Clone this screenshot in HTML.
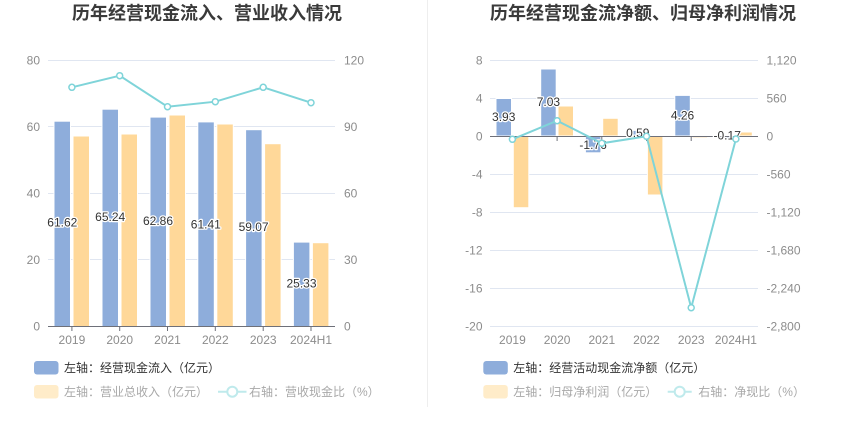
<!DOCTYPE html>
<html><head><meta charset="utf-8">
<style>
html,body{margin:0;padding:0;background:#fff;}
svg{display:block;font-family:"Liberation Sans","Noto Sans CJK SC",sans-serif;}
.t{font-size:18px;font-weight:bold;fill:#3a3a3a;}
.ax{font-size:12px;fill:#8c8c8c;}
.lb{font-size:12px;fill:#333;stroke:#fff;stroke-width:2.5px;paint-order:stroke;stroke-linejoin:round;}
.lg1{font-size:12px;fill:#333;}
.lg2{font-size:12px;fill:#a8a8a8;}
</style></head><body>
<svg width="850" height="437" viewBox="0 0 850 437" xmlns="http://www.w3.org/2000/svg">
<rect width="850" height="437" fill="#fff"/>
<line x1="427.5" y1="0" x2="427.5" y2="407" stroke="#eeeeee" stroke-width="1"/>

<!-- LEFT CHART -->
<text class="t" x="207" y="19.5" text-anchor="middle">历年经营现金流入、营业收入情况</text>
<g stroke="#e0e6f1" stroke-width="1">
<line x1="48" y1="60.5" x2="335" y2="60.5"/>
<line x1="48" y1="126.5" x2="335" y2="126.5"/>
<line x1="48" y1="193.5" x2="335" y2="193.5"/>
<line x1="48" y1="259.5" x2="335" y2="259.5"/>
</g>
<g class="ax" text-anchor="end">
<text x="40" y="64.5">80</text>
<text x="40" y="131">60</text>
<text x="40" y="197.5">40</text>
<text x="40" y="264">20</text>
<text x="40" y="330.5">0</text>
</g>
<g class="ax" text-anchor="start">
<text x="344" y="64.5">120</text>
<text x="344" y="131">90</text>
<text x="344" y="197.5">60</text>
<text x="344" y="264">30</text>
<text x="344" y="330.5">0</text>
</g>
<!-- bars -->
<g stroke="#fff" stroke-width="1">
<rect x="54" y="121.2" width="16.5" height="205.3" fill="#8eaddb"/>
<rect x="73" y="136" width="16.5" height="190.5" fill="#ffd899"/>
<rect x="102" y="109.2" width="16.5" height="217.3" fill="#8eaddb"/>
<rect x="121" y="134" width="16.5" height="192.5" fill="#ffd899"/>
<rect x="150" y="117.1" width="16.5" height="209.4" fill="#8eaddb"/>
<rect x="169" y="115" width="16.5" height="211.5" fill="#ffd899"/>
<rect x="197.8" y="121.9" width="16.5" height="204.6" fill="#8eaddb"/>
<rect x="216.8" y="124" width="16.5" height="202.5" fill="#ffd899"/>
<rect x="245.6" y="129.7" width="16.5" height="196.8" fill="#8eaddb"/>
<rect x="264.6" y="143.7" width="16.5" height="182.8" fill="#ffd899"/>
<rect x="293.4" y="242.1" width="16.5" height="84.4" fill="#8eaddb"/>
<rect x="312.4" y="242.7" width="16.5" height="83.8" fill="#ffd899"/>
</g>
<line x1="48" y1="326.5" x2="335" y2="326.5" stroke="#6e7079" stroke-width="1"/>
<g stroke="#6e7079" stroke-width="1">
<line x1="71.9" y1="326.5" x2="71.9" y2="331"/>
<line x1="119.7" y1="326.5" x2="119.7" y2="331"/>
<line x1="167.5" y1="326.5" x2="167.5" y2="331"/>
<line x1="215.3" y1="326.5" x2="215.3" y2="331"/>
<line x1="263.2" y1="326.5" x2="263.2" y2="331"/>
<line x1="311" y1="326.5" x2="311" y2="331"/>
</g>
<g class="ax" text-anchor="middle">
<text x="71.9" y="344">2019</text>
<text x="119.7" y="344">2020</text>
<text x="167.5" y="344">2021</text>
<text x="215.3" y="344">2022</text>
<text x="263.2" y="344">2023</text>
<text x="311" y="344">2024H1</text>
</g>
<g class="lb" text-anchor="middle">
<text x="62.3" y="226.3">61.62</text>
<text x="110.2" y="221">65.24</text>
<text x="158" y="225">62.86</text>
<text x="205.8" y="228.3">61.41</text>
<text x="253.6" y="231">59.07</text>
<text x="301.5" y="287.6">25.33</text>
</g>
<polyline points="71.9,87.3 119.7,75.7 167.5,106.7 215.3,101.7 263.2,87.3 311,102.7" fill="none" stroke="#7fd4d9" stroke-width="2"/>
<g fill="#fff" stroke="#7fd4d9" stroke-width="1.5">
<circle cx="71.9" cy="87.3" r="3"/>
<circle cx="119.7" cy="75.7" r="3"/>
<circle cx="167.5" cy="106.7" r="3"/>
<circle cx="215.3" cy="101.7" r="3"/>
<circle cx="263.2" cy="87.3" r="3"/>
<circle cx="311" cy="102.7" r="3"/>
</g>
<!-- left legend -->
<rect x="34" y="361" width="24.5" height="13.5" rx="3" fill="#8eaddb"/>
<text class="lg1" x="64" y="372">左轴：经营现金流入（亿元）</text>
<rect x="34" y="385" width="24.5" height="13.5" rx="3" fill="#ffecc9"/>
<text class="lg2" x="64" y="396">左轴：营业总收入（亿元）</text>
<line x1="218" y1="391.7" x2="246.5" y2="391.7" stroke="#bfeaec" stroke-width="2"/>
<circle cx="232.3" cy="391.7" r="5" fill="#fff" stroke="#bfeaec" stroke-width="2"/>
<text class="lg2" x="249" y="396">右轴：营收现金比（%）</text>

<!-- RIGHT CHART -->
<text class="t" x="643" y="19.5" text-anchor="middle">历年经营现金流净额、归母净利润情况</text>
<g stroke="#e0e6f1" stroke-width="1">
<line x1="490" y1="60.5" x2="758" y2="60.5"/>
<line x1="490" y1="98.5" x2="758" y2="98.5"/>
<line x1="490" y1="174.5" x2="758" y2="174.5"/>
<line x1="490" y1="212.5" x2="758" y2="212.5"/>
<line x1="490" y1="250.5" x2="758" y2="250.5"/>
<line x1="490" y1="288.5" x2="758" y2="288.5"/>
<line x1="490" y1="326.5" x2="758" y2="326.5"/>
</g>
<g class="ax" text-anchor="end">
<text x="482.5" y="64.5">8</text>
<text x="482.5" y="102.5">4</text>
<text x="482.5" y="140.5">0</text>
<text x="482.5" y="178.5">-4</text>
<text x="482.5" y="216.5">-8</text>
<text x="482.5" y="254.5">-12</text>
<text x="482.5" y="292.5">-16</text>
<text x="482.5" y="330.5">-20</text>
</g>
<g class="ax" text-anchor="start">
<text x="766.5" y="64.5">1,120</text>
<text x="766.5" y="102.5">560</text>
<text x="766.5" y="140.5">0</text>
<text x="766.5" y="178.5">-560</text>
<text x="766.5" y="216.5">-1,120</text>
<text x="766.5" y="254.5">-1,680</text>
<text x="766.5" y="292.5">-2,240</text>
<text x="766.5" y="330.5">-2,800</text>
</g>
<g stroke="#fff" stroke-width="1">
<rect x="496" y="98.5" width="15.5" height="37.5" fill="#8eaddb"/>
<rect x="513.3" y="136" width="15.5" height="71.7" fill="#ffd899"/>
<rect x="540.7" y="69" width="15.5" height="67" fill="#8eaddb"/>
<rect x="558" y="106" width="15.5" height="30" fill="#ffd899"/>
<rect x="585.4" y="136" width="15.5" height="16.8" fill="#8eaddb"/>
<rect x="602.7" y="118.3" width="15.5" height="17.7" fill="#ffd899"/>
<rect x="630.1" y="130.4" width="15.5" height="5.6" fill="#8eaddb"/>
<rect x="647.4" y="136" width="15.5" height="59" fill="#ffd899"/>
<rect x="674.8" y="95.4" width="15.5" height="40.6" fill="#8eaddb"/>
<rect x="692.1" y="136" width="15.5" height="1.8" fill="#ffd899"/>
<rect x="719.5" y="136" width="15.5" height="1.8" fill="#8eaddb"/>
<rect x="736.8" y="132" width="15.5" height="4" fill="#ffd899"/>
</g>
<line x1="490" y1="136.5" x2="758" y2="136.5" stroke="#6e7079" stroke-width="1"/>
<g stroke="#6e7079" stroke-width="1">
<line x1="512.4" y1="136.5" x2="512.4" y2="141"/>
<line x1="557.1" y1="136.5" x2="557.1" y2="141"/>
<line x1="601.8" y1="136.5" x2="601.8" y2="141"/>
<line x1="646.5" y1="136.5" x2="646.5" y2="141"/>
<line x1="691.2" y1="136.5" x2="691.2" y2="141"/>
<line x1="735.9" y1="136.5" x2="735.9" y2="141"/>
</g>
<g class="ax" text-anchor="middle">
<text x="512.4" y="344">2019</text>
<text x="557.1" y="344">2020</text>
<text x="601.8" y="344">2021</text>
<text x="646.5" y="344">2022</text>
<text x="691.2" y="344">2023</text>
<text x="735.9" y="344">2024H1</text>
</g>
<g class="lb" text-anchor="middle">
<text x="503.7" y="121">3.93</text>
<text x="548.4" y="106">7.03</text>
<text x="593.1" y="149">-1.76</text>
<text x="637.8" y="137">0.59</text>
<text x="682.5" y="119.5">4.26</text>
<text x="727.2" y="139.5">-0.17</text>
</g>
<polyline points="512.4,139.3 557.1,120.7 601.8,143.3 646.5,136.3 691.2,307.7 735.9,139" fill="none" stroke="#7fd4d9" stroke-width="2"/>
<g fill="#fff" stroke="#7fd4d9" stroke-width="1.5">
<circle cx="512.4" cy="139.3" r="3"/>
<circle cx="557.1" cy="120.7" r="3"/>
<circle cx="601.8" cy="143.3" r="3"/>
<circle cx="646.5" cy="136.3" r="3"/>
<circle cx="691.2" cy="307.7" r="3"/>
<circle cx="735.9" cy="139" r="3"/>
</g>
<!-- right legend -->
<rect x="483.3" y="361" width="24.5" height="13.5" rx="3" fill="#8eaddb"/>
<text class="lg1" x="513.3" y="372">左轴：经营活动现金流净额（亿元）</text>
<rect x="483.3" y="385" width="24.5" height="13.5" rx="3" fill="#ffecc9"/>
<text class="lg2" x="513.3" y="396">左轴：归母净利润（亿元）</text>
<line x1="667.7" y1="391.7" x2="691.7" y2="391.7" stroke="#bfeaec" stroke-width="2"/>
<circle cx="679.7" cy="391.7" r="5" fill="#fff" stroke="#bfeaec" stroke-width="2"/>
<text class="lg2" x="698.3" y="396">右轴：净现比（%）</text>
</svg>
</body></html>
